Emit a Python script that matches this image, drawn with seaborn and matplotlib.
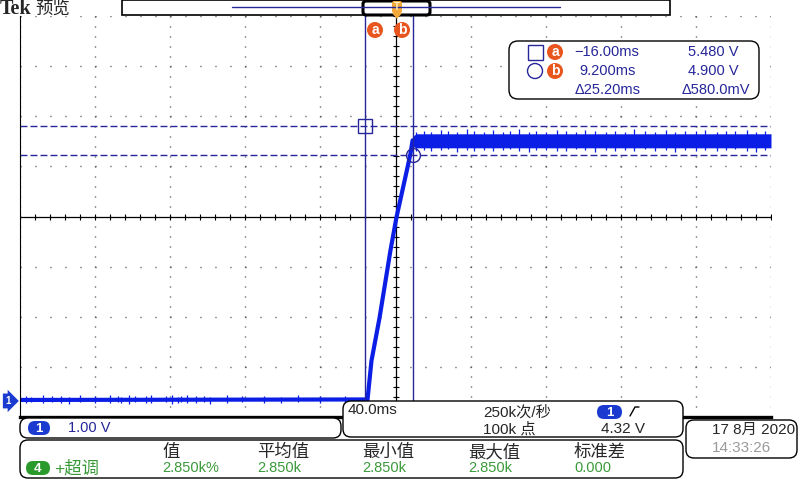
import numpy as np
import pandas as pd
import matplotlib
matplotlib.use("Agg")
import matplotlib.pyplot as plt
from matplotlib.patches import FancyBboxPatch, Rectangle, Circle, Polygon
from matplotlib.lines import Line2D
from matplotlib.transforms import Affine2D, blended_transform_factory
import seaborn as sns

sns.set_theme(style="white")
plt.rcParams["font.family"] = ["Liberation Sans", "Noto Sans CJK SC"]

# CH1 trace, 40 ms/div and 1 V/div
trace_t = [-200, -14.9, -12.8, -8.5, -2.7, 0.5, 6.4, 8.0, 9.1]
trace_v = [0.02, 0.03, 0.80, 1.66, 3.00, 3.66, 4.66, 4.94, 5.20]

# noisy plateau after the edge (envelope of the noise band)
plat_t = [9.1, 11.0, 200]
plat_lo = [5.08, 5.05, 5.05]
plat_hi = [5.28, 5.33, 5.33]

plat_spike_t = [11, 15, 19, 24, 28, 33, 38, 42, 47, 52, 57, 61, 66, 71, 75, 80, 86, 91, 96,
                101, 106, 112, 117, 122, 127, 133, 138, 144, 149, 154, 160, 165, 171, 176, 181, 187, 192, 197]
plat_spike_hi = [5.37, 5.39, 5.36, 5.41, 5.38, 5.37, 5.43, 5.38, 5.36, 5.40, 5.37, 5.39, 5.42, 5.37, 5.38, 5.36, 5.40, 5.39, 5.37,
                 5.41, 5.38, 5.36, 5.39, 5.37, 5.42, 5.38, 5.37, 5.40, 5.36, 5.39, 5.38, 5.41, 5.37, 5.39, 5.38, 5.40, 5.37, 5.39]
plat_spike_lo = [4.99, 5.01, 4.98, 5.00, 5.02, 4.97, 5.00, 4.99, 5.01, 4.98, 5.00, 5.02, 4.99, 4.97, 5.01, 5.00, 4.98, 4.99, 5.02,
                 5.00, 4.97, 5.01, 4.99, 5.00, 4.98, 5.02, 4.99, 5.01, 4.97, 5.00, 4.99, 5.01, 4.98, 5.00, 5.02, 4.99, 4.97, 5.01]

base_spike_t = [-197, -194, -188, -183, -178, -174, -168, -160, -152, -148, -146, -142, -139, -133, -130,
                -122, -119, -116, -114, -111, -106, -102, -99, -90, -82, -70, -61, -52, -40, -27]
base_spike_hi = [0.10, 0.08, 0.11, 0.09, 0.10, 0.08, 0.11, 0.09, 0.12, 0.10, 0.08, 0.11, 0.09, 0.10, 0.12,
                 0.09, 0.11, 0.08, 0.10, 0.12, 0.09, 0.10, 0.08, 0.11, 0.09, 0.10, 0.08, 0.11, 0.09, 0.10]
base_spike_lo = [-0.04, -0.03, -0.05, -0.03, -0.04, -0.06, -0.03, -0.04, -0.05, -0.03, -0.04, -0.06, -0.03, -0.04, -0.05,
                 -0.03, -0.06, -0.04, -0.03, -0.05, -0.04, -0.03, -0.06, -0.04, -0.03, -0.05, -0.04, -0.03, -0.05, -0.04]

# cursors
cursor_a = (-16.00, 5.480)
cursor_b = (9.200, 4.900)

# screen readouts
readout_rows = [("\u221216.00ms", "5.480 V"), ("9.200ms", "4.900 V"), ("\u039425.20ms", "\u0394580.0mV")]
meas_headers = ["值", "平均值", "最小值", "最大值", "标准差"]
meas_values = ["2.850k%", "2.850k", "2.850k", "2.850k", "0.000"]

blue = "#0a1ee6"
navy = "#26269a"
orange = "#e8561e"
green = "#3a9a3a"

fig = plt.figure(figsize=(8, 4.8), dpi=100)
fig.patch.set_facecolor("white")
ax = fig.add_axes([20 / 800, 1 - 417 / 480, 751 / 800, 401 / 480])
ax.set_facecolor("white")

# graticule: 10 x 8 divisions
ax.set_xlim(-200, 200)
ax.set_ylim(-0.32, 7.68)
ax.set_xticks(np.arange(-200, 201, 40))
ax.set_yticks(-0.32 + np.arange(9))
ax.tick_params(length=0, labelbottom=False, labelleft=False)
ax.xaxis.grid(True, color="#333333", lw=1.0, linestyle=(0, (0.7, 6.5)))
ax.yaxis.grid(True, color="#333333", lw=1.0, linestyle=(0, (0.7, 10.1)))
ax.axvline(0, color="black", lw=0.9)
ax.axhline(3.68, color="black", lw=0.9)
ax.plot(np.arange(-200, 201, 8), np.full(51, 3.68), ls="none", marker="|", ms=5, mew=0.8, color="black")
ax.plot(np.zeros(41), -0.32 + np.arange(0, 8.01, 0.2), ls="none", marker="_", ms=5, mew=0.8, color="black")
for s in ["top", "right"]:
    ax.spines[s].set_visible(False)
ax.spines["left"].set_color("black")
ax.spines["left"].set_linewidth(0.8)
ax.spines["bottom"].set_color("black")
ax.spines["bottom"].set_linewidth(2.4)

# trace
df = pd.DataFrame({"t": trace_t, "v": trace_v})
sns.lineplot(data=df, x="t", y="v", ax=ax, color=blue, lw=3, estimator=None, sort=False)
ax.fill_between(plat_t, plat_lo, plat_hi, color=blue, lw=0)
ax.vlines(plat_spike_t, plat_spike_lo, plat_spike_hi, color=blue, lw=0.9)
ax.vlines(base_spike_t, base_spike_lo, base_spike_hi, color=blue, lw=0.9)
ax.set_xlabel("")
ax.set_ylabel("")

# cursors
ax.axvline(cursor_a[0], color=navy, lw=1)
ax.axvline(cursor_b[0], color=navy, lw=1)
ax.axhline(cursor_a[1], color=navy, lw=1, linestyle=(0, (5, 2.2)))
ax.axhline(cursor_b[1], color=navy, lw=1, linestyle=(0, (5, 2.2)))
ax.plot(*cursor_a, marker="s", ms=10, mfc="none", mec=navy, mew=1)
ax.plot(*cursor_b, marker="o", ms=10, mfc="none", mec=navy, mew=1)

# channel ground marker
gtr = blended_transform_factory(ax.transAxes, ax.transData)
ax.text(-0.016, 0, "1", transform=gtr, ha="center", va="center", color="white", fontsize=7,
        fontweight="bold", clip_on=False,
        bbox=dict(boxstyle="rarrow,pad=0.25", fc="#1a3ad0", ec="none"))

# screen pixel coordinates (y from top) for the panels
T = Affine2D().scale(1 / 800, -1 / 480).translate(0, 1) + fig.transFigure


def rbox(x0, y0, x1, y1, r=7, lw=1.0, fc="white", ec="black"):
    p = FancyBboxPatch((x0, y0), x1 - x0, y1 - y0, boxstyle=f"round,pad=0,rounding_size={r}",
                       transform=T, fc=fc, ec=ec, lw=lw)
    fig.add_artist(p)


def txt(x, y, s, **kw):
    kw.setdefault("va", "center")
    kw.setdefault("fontsize", 10)
    fig.text(x, y, s, transform=T, **kw)


def badge(x0, y0, x1, y1, label, fc):
    rbox(x0, y0, x1, y1, r=(y1 - y0) / 2, lw=0, fc=fc, ec=fc)
    txt((x0 + x1) / 2, (y0 + y1) / 2 + 0.5, label, ha="center", color="white", fontsize=9.5, fontweight="bold")


def dot(x, y, label, r=7.5):
    fig.add_artist(Circle((x, y), r, transform=T, fc=orange, ec="none"))
    txt(x, y, label, ha="center", color="white", fontsize=10, fontweight="bold")


# header line
txt(0, 9, "Tek", family="Liberation Serif", fontweight="bold", fontsize=14.5)
txt(35, 9, "预览", family="Noto Sans CJK SC", fontsize=12.5)
fig.add_artist(Rectangle((122, 0), 548, 15, transform=T, fc="white", ec="black", lw=1.2))
fig.add_artist(Line2D([232, 560], [7, 7], transform=T, color=navy, lw=1))
rbox(363, 1, 430, 15, r=3, lw=2.2, fc="none")
rbox(392, 1, 402, 13, r=2, lw=0, fc="#f2a83a", ec="#f2a83a")
txt(397, 7.5, "T", ha="center", fontsize=7, color="#fff2c0", fontweight="bold")
fig.add_artist(Polygon([(392, 13), (402, 13), (397, 19)], transform=T, fc="#f2a83a", ec="none"))
dot(375, 30, "a", r=8)
dot(402, 30, "b", r=8)

# cursor readout
rbox(509, 41, 759, 99, r=9)
fig.add_artist(Rectangle((528, 45), 15, 15, transform=T, fc="none", ec=navy, lw=1))
fig.add_artist(Circle((535, 71), 7.5, transform=T, fc="none", ec=navy, lw=1))
dot(555, 52, "a", r=8)
dot(555, 71, "b", r=8)
for (a, b), y, xa, xb in zip(readout_rows, [52, 71, 90], [639, 636, 641], [739, 739, 750]):
    txt(xa, y, a, ha="right", color=navy, fontsize=10.5)
    txt(xb, y, b, ha="right", color=navy, fontsize=10.5)

# channel box
rbox(20, 418, 341, 438, r=8)
badge(28, 421, 50, 435, "1", "#1a3ad0")
txt(68, 428, "1.00 V", color=navy, fontsize=10.5)

# timebase box
rbox(343, 401, 683, 437, r=8)
txt(348, 410, "40.0ms", fontsize=11)
txt(483, 412, "250k次/秒", fontsize=11)
txt(483, 429, "100k 点", fontsize=11)
badge(597, 405, 622, 419, "1", "#1a3ad0")
fig.add_artist(Line2D([630, 635, 639], [416, 407, 407], transform=T, color="black", lw=1))
txt(645, 429, "4.32 V", ha="right", fontsize=11)

# date box
rbox(686, 420, 797, 458, r=8)
txt(712, 430, "17 8月 2020", fontsize=11)
txt(712, 448, "14:33:26", fontsize=11, color="#9a9a9a")

# measurement box
rbox(20, 440, 683, 478, r=8)
badge(26, 461, 50, 475, "4", "#2a9a2a")
txt(54, 468, "+超调", color=green, fontsize=12.5)
for x, h, v in zip([162, 257, 362, 468, 574], meas_headers, meas_values):
    txt(x, 452, h, fontsize=12.5)
    txt(x, 468, v, color=green, fontsize=10.5)

fig.savefig("out.png", dpi=100, facecolor="white")
